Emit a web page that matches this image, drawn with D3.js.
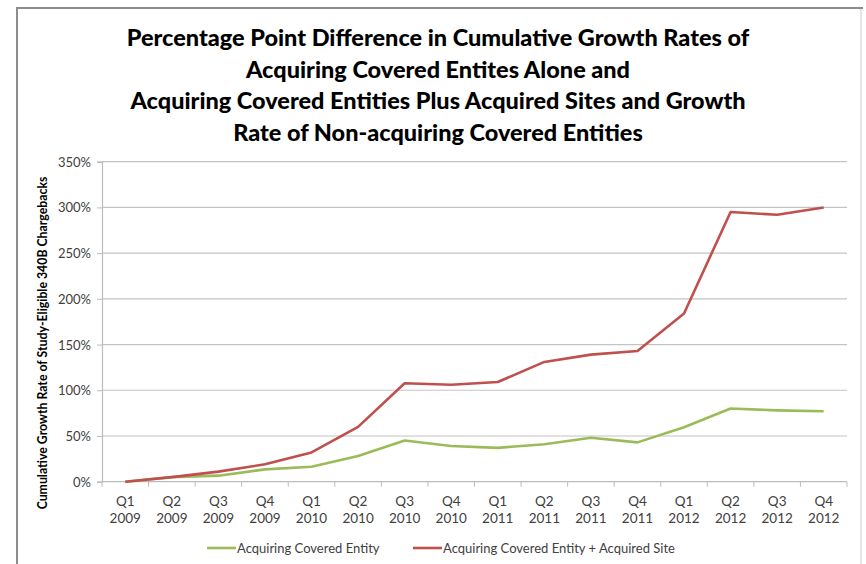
<!DOCTYPE html>
<html>
<head>
<meta charset="utf-8">
<script src="https://cdn.jsdelivr.net/npm/d3@7"></script>
<style>
  body { margin: 0; background: #fff; }
  text { font-family: Lato, "Open Sans", sans-serif; fill: #404040; }
</style>
</head>
<body>
<svg width="866" height="564"></svg>
<script>
// data
var quarters = ["Q1", "Q2", "Q3", "Q4", "Q1", "Q2", "Q3", "Q4", "Q1", "Q2", "Q3", "Q4", "Q1", "Q2", "Q3", "Q4"];
var years = ["2009", "2009", "2009", "2009", "2010", "2010", "2010", "2010", "2011", "2011", "2011", "2011", "2012", "2012", "2012", "2012"];
var acquiringCE = [0, 5, 6.6, 13.5, 16.4, 28, 45, 39, 37, 41, 48, 43, 59.5, 80, 78, 77];
var acquiringPlusSite = [0, 5, 11, 19, 32, 60, 107.6, 106, 109, 131, 139, 143, 184, 295, 292, 300];
var yTicks = [0, 50, 100, 150, 200, 250, 300, 350];
var seriesNames = ["Acquiring Covered Entity", "Acquiring Covered Entity + Acquired Site"];
var seriesColors = ["#9bbb59", "#c0504d"];
var titleLines = [
  "Percentage Point Difference in Cumulative Growth Rates of",
  "Acquiring Covered Entites Alone and",
  "Acquiring Covered Entities Plus Acquired Sites and Growth",
  "Rate of Non-acquiring Covered Entities"
];

var svg = d3.select("svg");

// outer frame
svg.append("line").attr("x1", 17).attr("x2", 17).attr("y1", 7).attr("y2", 564)
   .attr("stroke", "#8c8c8c").attr("stroke-width", 2);
svg.append("line").attr("x1", 16).attr("x2", 863).attr("y1", 8).attr("y2", 8)
   .attr("stroke", "#8c8c8c").attr("stroke-width", 2);
svg.append("line").attr("x1", 861).attr("x2", 861).attr("y1", 9).attr("y2", 564)
   .attr("stroke", "#e6e6e6").attr("stroke-width", 2);

var margin = {left: 102, top: 161.7},
    width = 745,
    height = 320;

var g = svg.append("g").attr("transform", "translate(" + margin.left + "," + margin.top + ")");

var idx = d3.range(quarters.length);
var x = d3.scaleBand().domain(idx).range([0, width]);
var y = d3.scaleLinear().domain([0, 350]).range([height, 0]);

// gridlines
g.selectAll(".grid").data(yTicks.slice(1)).enter().append("line")
 .attr("x1", 0).attr("x2", width)
 .attr("y1", function(d) { return y(d); }).attr("y2", function(d) { return y(d); })
 .attr("stroke", "#c4c4c4").attr("stroke-width", 1.2);

// y axis
var yAxis = g.append("g").call(d3.axisLeft(y).tickValues(yTicks).tickSize(5).tickPadding(6)
  .tickFormat(function(d) { return d + "%"; }));
yAxis.select(".domain").attr("stroke", "#bcbcbc").attr("stroke-width", 1.2);
yAxis.selectAll(".tick line").attr("stroke", "#bcbcbc");
yAxis.selectAll("text").style("font-size", "13px").attr("dy", "0.35em");

// x axis (ticks at category boundaries)
var xAxis = g.append("g").attr("transform", "translate(0," + height + ")");
xAxis.append("line").attr("x1", 0).attr("x2", width).attr("y1", 0).attr("y2", 0)
     .attr("stroke", "#bcbcbc").attr("stroke-width", 1.2);
xAxis.selectAll(".xt").data(d3.range(quarters.length + 1)).enter().append("line")
     .attr("x1", function(d) { return d * x.step(); }).attr("x2", function(d) { return d * x.step(); })
     .attr("y1", 0).attr("y2", 5).attr("stroke", "#bcbcbc");
var lab = xAxis.selectAll(".xl").data(idx).enter().append("text")
     .attr("text-anchor", "middle")
     .attr("x", function(d) { return x(d) + x.bandwidth() / 2; })
     .style("font-size", "13.5px");
lab.append("tspan").attr("x", function(d) { return x(d) + x.bandwidth() / 2; }).attr("y", 24)
   .text(function(d) { return quarters[d]; });
lab.append("tspan").attr("x", function(d) { return x(d) + x.bandwidth() / 2; }).attr("y", 41)
   .text(function(d) { return years[d]; });

// lines
var line = d3.line()
  .x(function(d, i) { return x(i) + x.bandwidth() / 2; })
  .y(function(d) { return y(d); });

[acquiringCE, acquiringPlusSite].forEach(function(s, k) {
  g.append("path").datum(s)
   .attr("fill", "none")
   .attr("stroke", seriesColors[k])
   .attr("stroke-width", 2.6)
   .attr("stroke-linejoin", "round")
   .attr("d", line);
});

// y axis title
svg.append("text")
   .attr("transform", "translate(47,343) rotate(-90)")
   .attr("text-anchor", "middle")
   .style("font-size", "12.3px").style("font-weight", "bold").style("fill", "#000")
   .text("Cumulative Growth Rate of Study-Eligible 340B Chargebacks");

// legend
var legendX = [207, 413];
seriesNames.forEach(function(n, k) {
  svg.append("line").attr("x1", legendX[k]).attr("x2", legendX[k] + 29)
     .attr("y1", 548).attr("y2", 548)
     .attr("stroke", seriesColors[k]).attr("stroke-width", 2.6);
  svg.append("text").attr("x", legendX[k] + 30).attr("y", 552.5)
     .style("font-size", "13px").text(n);
});

// title
var title = svg.append("g");
title.selectAll("text").data(titleLines).enter().append("text")
   .attr("x", 438)
   .attr("y", function(d, i) { return 46 + i * 31.6; })
   .attr("text-anchor", "middle")
   .style("fill", "#000")
   .style("font-weight", "900")
   .style("font-size", "22px")
   .text(function(d) { return d; });
// fit font size so the first line spans about 623px like the original
var w0 = title.select("text").node().getComputedTextLength();
var fs = 22 * 623 / w0;
title.selectAll("text").style("font-size", fs + "px");
</script>
</body>
</html>
